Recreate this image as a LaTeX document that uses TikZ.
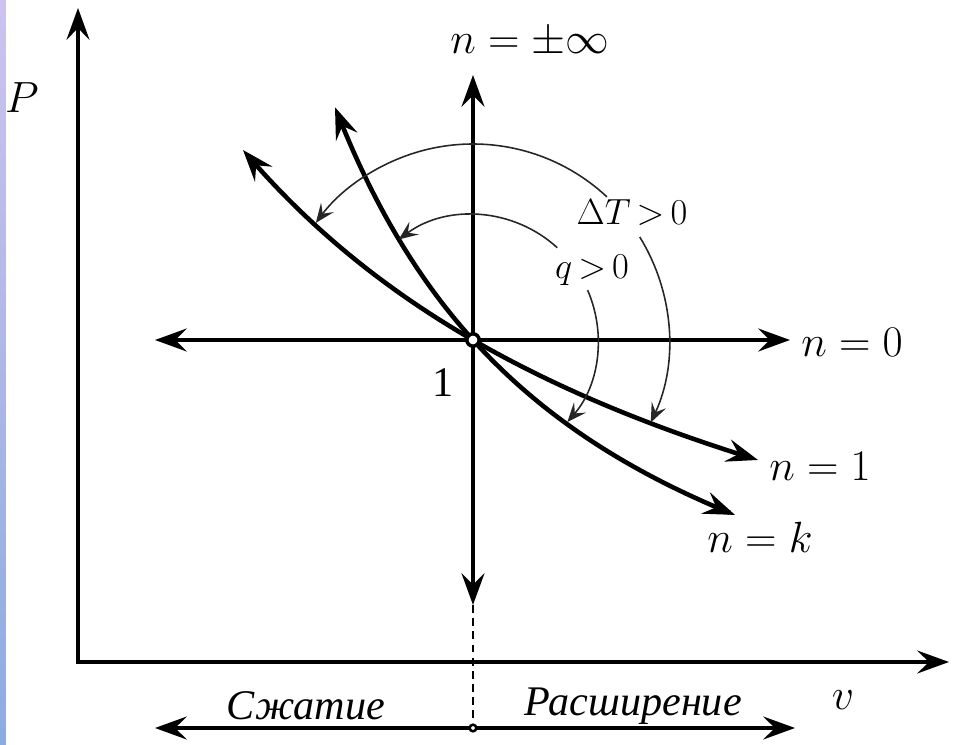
\documentclass[tikz,border=0pt]{standalone}
\usepackage{fontspec}
\setmainfont{Liberation Serif}
\usetikzlibrary{arrows.meta,positioning,calc}
\definecolor{striptop}{RGB}{205,195,238}
\definecolor{stripbot}{RGB}{140,172,226}

\begin{document}
\begin{tikzpicture}[x=0.02cm, y=0.02cm,
    >={Stealth[length=18pt,width=13pt,inset=6.5pt]},
    axis/.style={line width=1.9pt},
    main/.style={line width=2.6pt},
    turn/.style={line width=0.9pt, draw=black!85, -{Stealth[length=11pt,width=9pt,inset=4.5pt]}},
    lbl/.style={font=\fontsize{24}{28}\selectfont, inner sep=0pt},
    small/.style={font=\fontsize{20}{24}\selectfont, inner sep=0pt}]
    \useasboundingbox (-473,-404) rectangle (480,340);
    \shade[top color=striptop, bottom color=stripbot] (-473,-404) rectangle (-467,340);

    % axes P, v
    \coordinate (org) at (-395,-322);
    \coordinate (ptip) at (-395,332);
    \coordinate (vtip) at (476,-322);
    \draw[axis, <->] (ptip) -- (org) -- (vtip);
    \node[lbl] (plab) at (-451,242) {$P$};
    \node[lbl] (vlab) at (370,-360) {$v$};

    % point 1 and the two straight processes
    \coordinate (O) at (0,0);
    \coordinate (top) at (0,265);
    \coordinate (bot) at (0,-265);
    \coordinate (lft) at (-318,0);
    \coordinate (rgt) at (317,0);
    \draw[main, <->] (bot) -- (top);
    \draw[main, <->] (lft) -- (rgt);

    % n=1 and n=k
    \draw[main, <->, domain=-230:285, samples=80] plot (\x, {-442*(\x/(\x+765))});
    \draw[main, <->, domain=-138:262, samples=80] plot (\x, {-442*(\x/(\x+400))});

    \node[lbl] (ninf) at (57,297) {$n=\pm\infty$};
    \node[lbl] (nzero) at (379,-2) {$n=0$};
    \node[lbl] (none) at (347,-126) {$n=1$};
    \node[lbl] (nk) at (287,-197) {$n=k$};
    \node[lbl] (one) at (-30,-43) {1};

    % arcs
    \draw[turn] (O) ++(46.9:196) arc[start angle=46.9, end angle=143.3, radius=196];
    \draw[turn] (O) ++(31.7:196) arc[start angle=31.7, end angle=-24.9, radius=196];
    \draw[turn] (O) ++(47.6:125) arc[start angle=47.6, end angle=126.5, radius=125];
    \draw[turn] (O) ++(23.5:125) arc[start angle=23.5, end angle=-41, radius=125];
    \node[small] (dT) at (159,127) {$\Delta T\,{>}\,0$};
    \node[small] (qpos) at (119,70) {$q\,{>}\,0$};

    \node[circle, draw, fill=white, line width=2pt, inner sep=0pt, minimum size=7pt] (Oc) at (O) {};

    % compression / expansion
    \coordinate (mid) at (0,-388);
    \coordinate (sleft) at (-318,-388);
    \coordinate (sright) at (322,-388);
    \draw[dashed, line width=0.7pt, dash pattern=on 4.5pt off 3pt] (bot) -- (mid);
    \draw[axis, <->] (sleft) -- (sright);
    \node[circle, draw, fill=white, line width=1.4pt, inner sep=0pt, minimum size=3.8pt] (midc) at (mid) {};
    \node[lbl, font=\fontsize{24}{28}\selectfont\itshape] (squeeze) at (-167,-366) {Сжатие};
    \node[lbl, font=\fontsize{24}{28}\selectfont\itshape] (expand) at (160,-366) {Расширение};
\end{tikzpicture}
\end{document}
